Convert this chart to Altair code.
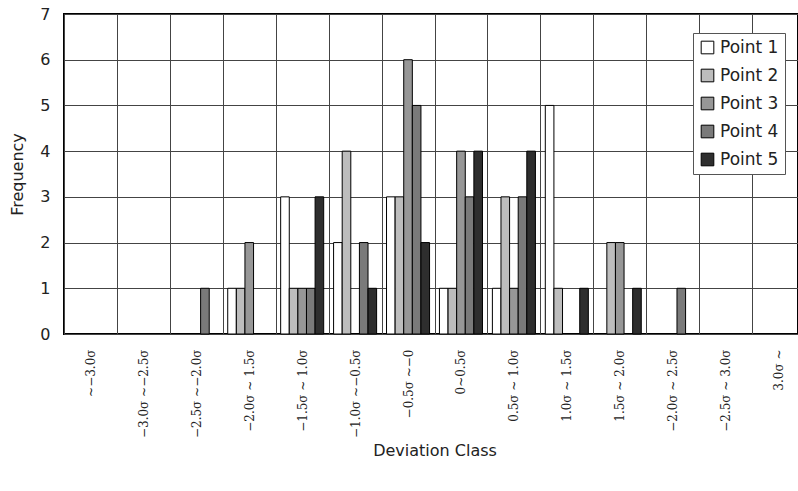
import altair as alt
import pandas as pd

# Deviation classes (x categories), in display order
classes = [
    "~−3.0σ", "−3.0σ ~−2.5σ", "−2.5σ ~−2.0σ", "−2.0σ ~ 1.5σ",
    "−1.5σ ~ 1.0σ", "−1.0σ ~−0.5σ", "−0.5σ ~−0", "0~0.5σ",
    "0.5σ ~ 1.0σ", "1.0σ ~ 1.5σ", "1.5σ ~ 2.0σ", "−2.0σ ~ 2.5σ",
    "−2.5σ ~ 3.0σ", "3.0σ ~",
]

series = ["Point 1", "Point 2", "Point 3", "Point 4", "Point 5"]

# Frequency counts per class for each measurement point
point1 = [0, 0, 0, 1, 3, 2, 3, 1, 1, 5, 0, 0, 0, 0]
point2 = [0, 0, 0, 1, 1, 4, 3, 1, 3, 1, 2, 0, 0, 0]
point3 = [0, 0, 0, 2, 1, 0, 6, 4, 1, 0, 2, 0, 0, 0]
point4 = [0, 0, 1, 0, 1, 2, 5, 3, 3, 0, 0, 1, 0, 0]
point5 = [0, 0, 0, 0, 3, 1, 2, 4, 4, 1, 1, 0, 0, 0]

shades = ["#ffffff", "#bdbdbd", "#979797", "#7a7a7a", "#2e2e2e"]

rows = []
for name, vals in zip(series, [point1, point2, point3, point4, point5]):
    for c, v in zip(classes, vals):
        rows.append({"cls": c, "series": name, "freq": v})
df = pd.DataFrame(rows)

SANS = "DejaVu Sans"

chart = alt.Chart(df).transform_filter(
    "datum.freq > 0"  # empty classes draw nothing
).mark_bar(stroke="black", strokeWidth=1).encode(
    x=alt.X(
        "cls:N",
        sort=classes,
        scale=alt.Scale(domain=classes, rangeMax=741, paddingInner=0, paddingOuter=0),
        axis=alt.Axis(
            title="Deviation Class",
            labelAngle=-90,
            labelFont="DejaVu Serif",
            labelFontSize=12,
            labelColor="#222",
            labelPadding=15,
            ticks=False,
            domain=False,
            grid=True,
            tickBand="extent",
            gridColor="#444",
            gridWidth=1,
            titleFont=SANS,
            titleFontSize=16,
            titleFontWeight="normal",
            titleColor="#222",
            titlePadding=5,
        ),
    ),
    xOffset=alt.XOffset(
        "series:N",
        sort=series,
        scale=alt.Scale(domain=series, paddingInner=0, paddingOuter=0.575),
    ),
    y=alt.Y(
        "freq:Q",
        scale=alt.Scale(domain=[0, 7], nice=False),
        axis=alt.Axis(
            title="Frequency",
            values=list(range(8)),
            ticks=False,
            domain=False,
            grid=True,
            gridColor="#444",
            gridWidth=1,
            labelFont=SANS,
            labelFontSize=16,
            labelColor="#222",
            labelPadding=14,
            titleFont=SANS,
            titleFontSize=16,
            titleFontWeight="normal",
            titleColor="#222",
            titlePadding=14,
        ),
    ),
    color=alt.Color(
        "series:N",
        sort=series,
        scale=alt.Scale(domain=series, range=shades),
        legend=alt.Legend(
            title=None,
            orient="none",
            legendX=629,
            legendY=19,
            fillColor="white",
            strokeColor="#555",
            padding=6,
            symbolType="square",
            symbolSize=160,
            symbolStrokeColor="black",
            symbolStrokeWidth=1,
            symbolOpacity=1,
            labelFont=SANS,
            labelFontSize=17,
            labelColor="#222",
            labelOffset=4,
            rowPadding=10,
        ),
    ),
).properties(
    width=734,
    height=320,
    background="white",
    autosize=alt.AutoSizeParams(type="none"),
    padding={"left": 64, "top": 14, "right": 0, "bottom": 157},
).configure_view(
    stroke="black",
    strokeWidth=2,
)

chart.save("out.html", embed_options={"renderer": "svg", "actions": False})
